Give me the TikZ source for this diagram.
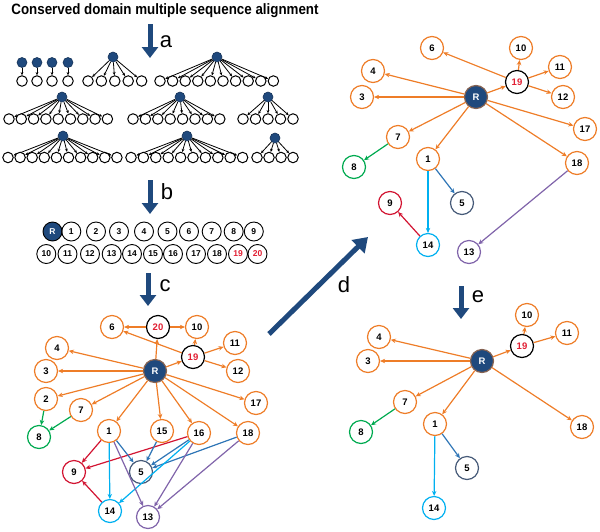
\documentclass[tikz,border=0pt]{standalone}
\usepackage{fontspec}
\setmainfont{Liberation Sans}
\usetikzlibrary{arrows.meta}
\definecolor{dblue}{RGB}{31,73,125}
\definecolor{orng}{RGB}{238,125,40}
\definecolor{grn}{RGB}{0,170,80}
\definecolor{rd}{RGB}{210,20,50}
\definecolor{eblue}{RGB}{46,117,182}
\definecolor{cyn}{RGB}{0,176,240}
\definecolor{prp}{RGB}{128,100,170}
\definecolor{slate}{RGB}{70,90,120}
\definecolor{redtxt}{RGB}{225,30,50}
\newcommand{\mytree}[7]{%
  \node[rootdot] (#1r) at (#2,#3) {};
  \foreach \i in {1,...,#6}{
    \node[leafc] (#1l\i) at ({#4+(\i-1)*#5},#7) {};
    \draw[treeedge] (#1r) -- (#1l\i);
  }%
}
\tikzset{
  rootdot/.style={circle, fill=dblue, draw=dblue!70!black, line width=0.6pt, minimum size=10pt, inner sep=0pt},
  leafc/.style={circle, draw=black, line width=1pt, minimum size=10.5pt, inner sep=0pt, fill=white},
  treeedge/.style={-{Stealth[length=3.2pt,width=2.8pt]}, line width=0.8pt},
  bnode/.style={circle, draw=black, line width=0.9pt, minimum size=19pt, inner sep=0pt, font=\bfseries\fontsize{8.5}{9}\selectfont},
  bR/.style={bnode, fill=dblue, text=white},
  bred/.style={bnode, text=redtxt},
  gn/.style={circle, draw=orng, line width=1.2pt, minimum size=23pt, inner sep=0pt, fill=white, font=\bfseries\fontsize{9.5}{10}\selectfont},
  gR/.style={gn, fill=dblue, text=white, draw=orng!50!dblue},
  gblk/.style={gn, draw=black, text=redtxt},
  ggrn/.style={gn, draw=grn},
  grd/.style={gn, draw=rd},
  gsl/.style={gn, draw=slate},
  gcy/.style={gn, draw=cyn},
  gpr/.style={gn, draw=prp},
  ge/.style={-{Stealth[length=5pt,width=4.5pt]}, line width=1.2pt},
  oe/.style={ge, draw=orng},
  gre/.style={ge, draw=grn},
  rde/.style={ge, draw=rd},
  ble/.style={ge, draw=eblue},
  cye/.style={ge, draw=cyn},
  pre/.style={ge, draw=prp},
  bigarrow/.style={-{Triangle[length=11pt,width=16pt]}, line width=5pt, draw=dblue},
  lbl/.style={font=\fontsize{22}{24}\selectfont, inner sep=0pt}
}
\begin{document}
\begin{tikzpicture}[x=1pt,y=-1pt]
\useasboundingbox (0,0) rectangle (600,531);
% title
\node[font=\bfseries\fontsize{15}{17}\selectfont, xscale=0.89, inner sep=0pt] (title) at (165,11) {Conserved domain multiple sequence alignment};
% arrow a
\coordinate (aS) at (150,24); \coordinate (aE) at (150,58);
\draw[bigarrow] (aS) -- (aE);
\node[lbl] (la) at (166,42) {a};
% trees
\mytree{sa}{22}{62.5}{22}{1}{1}{81}
\mytree{sb}{37}{62.5}{37}{1}{1}{81}
\mytree{sc}{52}{62.5}{52}{1}{1}{81}
\mytree{sd}{68}{62.5}{68}{1}{1}{81}
\mytree{tb}{113}{57}{88}{13.4}{5}{81}
\mytree{tc}{217}{57}{160}{12.6}{10}{81}
\mytree{td}{62}{97}{9}{12.3}{9}{119}
\mytree{te}{180}{97}{133}{12.4}{8}{119}
\mytree{tf}{268}{97}{243}{12.5}{5}{119}
\mytree{tg}{63}{136}{8}{12.1}{10}{157.5}
\mytree{th}{187}{136}{131}{12.4}{10}{157.5}
\mytree{ti}{275}{138}{257}{12}{4}{157.5}
% arrow b
\coordinate (bS) at (150,180); \coordinate (bE) at (150,214);
\draw[bigarrow] (bS) -- (bE);
\node[lbl] (lb) at (167,192) {b};
% row b
\node[bR] (bR) at (52.5,231.5) {R};
\node[bnode] (b1) at (71.3,231.5) {1};
\node[bnode] (b2) at (96,231.5) {2};
\node[bnode] (b3) at (119,231.5) {3};
\node[bnode] (b4) at (144,231.5) {4};
\node[bnode] (b5) at (167.5,231.5) {5};
\node[bnode] (b6) at (189,231.5) {6};
\node[bnode] (b7) at (211.7,231.5) {7};
\node[bnode] (b8) at (233.7,231.5) {8};
\node[bnode] (b9) at (253.8,231.5) {9};
\node[bnode] (b10) at (46.3,254) {10};
\node[bnode] (b11) at (67.5,254) {11};
\node[bnode] (b12) at (90,254) {12};
\node[bnode] (b13) at (111.7,254) {13};
\node[bnode] (b14) at (132,254) {14};
\node[bnode] (b15) at (153,254) {15};
\node[bnode] (b16) at (173,254) {16};
\node[bnode] (b17) at (196,254) {17};
\node[bnode] (b18) at (217,254) {18};
\node[bred] (b19) at (238,254) {19};
\node[bred] (b20) at (257.5,254) {20};
% arrow c
\coordinate (cS) at (148,273); \coordinate (cE) at (148,306);
\draw[bigarrow] (cS) -- (cE);
\node[lbl] (lc) at (165,286) {c};
% graph c
\node[gn] (c6) at (112,327) {6};
\node[gblk] (c20) at (158,327) {20};
\node[gn] (c10) at (197,327) {10};
\node[gn] (c4) at (57,348) {4};
\node[gblk] (c19) at (193,357) {19};
\node[gn] (c11) at (235,343) {11};
\node[gn] (c3) at (46,371) {3};
\node[gR] (cR) at (155,371) {R};
\node[gn] (c12) at (238,371) {12};
\node[gn] (c2) at (46,399) {2};
\node[gn] (c7) at (81,410) {7};
\node[gn] (c17) at (256,403) {17};
\node[ggrn] (c8) at (39,437) {8};
\node[gn] (c1) at (109,431) {1};
\node[gn] (c15) at (162,431) {15};
\node[gn] (c16) at (199,433) {16};
\node[gn] (c18) at (248,433) {18};
\node[grd] (c9) at (74,472) {9};
\node[gsl] (c5) at (141,472) {5};
\node[gcy] (c14) at (110,511) {14};
\node[gpr] (c13) at (148,517) {13};
\draw[oe] (c20) -- (c6);
\draw[oe] (c20) -- (c10);
\draw[oe] (cR) -- (c20);
\draw[oe] (c19) -- (c10);
\draw[oe] (c19) -- (c6);
\draw[oe] (c19) -- (c11);
\draw[oe] (c19) -- (c12);
\draw[oe] (cR) -- (c19);
\draw[oe] (cR) -- (c4);
\draw[oe] (cR) -- (c3);
\draw[oe] (cR) -- (c2);
\draw[oe] (cR) -- (c7);
\draw[oe] (cR) -- (c1);
\draw[oe] (cR) -- (c15);
\draw[oe] (cR) -- (c16);
\draw[oe] (cR) -- (c18);
\draw[oe] (cR) -- (c17);
\draw[gre] (c2) -- (c8);
\draw[gre] (c7) -- (c8);
\draw[rde] (c1) -- (c9);
\draw[rde] (c16) -- (c9);
\draw[rde] (c14) -- (c9);
\draw[ble] (c1) -- (c5);
\draw[ble] (c15) -- (c5);
\draw[ble] (c16) -- (c5);
\draw[ble] (c18) -- (c5);
\draw[cye] (c1) -- (c14);
\draw[cye] (c16) -- (c14);
\draw[pre] (c1) -- (c13);
\draw[pre] (c16) -- (c13);
\draw[pre] (c18) -- (c13);
% arrow d
\coordinate (dS) at (269,334); \coordinate (dE) at (368,237);
\draw[bigarrow, -{Triangle[length=14pt,width=18pt]}] (dS) -- (dE);
\node[lbl] (ld) at (344,285) {d};
% graph d
\node[gn] (d6) at (432,48) {6};
\node[gn] (d10) at (521,48) {10};
\node[gn] (d4) at (373,71) {4};
\node[gn] (d11) at (560,67) {11};
\node[gblk] (d19) at (517,82) {19};
\node[gn] (d3) at (362,97) {3};
\node[gR] (dR) at (476,97) {R};
\node[gn] (d12) at (563,97) {12};
\node[gn] (d17) at (585,129) {17};
\node[gn] (d7) at (398,137) {7};
\node[gn] (d1) at (428,159) {1};
\node[gn] (d18) at (577,163) {18};
\node[ggrn] (d8) at (354,167) {8};
\node[grd] (d9) at (390,203) {9};
\node[gsl] (d5) at (462,203) {5};
\node[gcy] (d14) at (428,245) {14};
\node[gpr] (d13) at (469,252) {13};
\draw[oe] (d19) -- (d6);
\draw[oe] (dR) -- (d4);
\draw[oe] (dR) -- (d3);
\draw[oe] (dR) -- (d19);
\draw[oe] (d19) -- (d10);
\draw[oe] (d19) -- (d11);
\draw[oe] (d19) -- (d12);
\draw[oe] (dR) -- (d17);
\draw[oe] (dR) -- (d18);
\draw[oe] (dR) -- (d7);
\draw[oe] (dR) -- (d1);
\draw[gre] (d7) -- (d8);
\draw[ble] (d1) -- (d5);
\draw[cye] (d1) -- (d14);
\draw[rde] (d14) -- (d9);
\draw[pre] (d18) -- (d13);
% arrow e
\coordinate (eS) at (461,286); \coordinate (eE) at (461,319);
\draw[bigarrow] (eS) -- (eE);
\node[lbl] (le) at (478,297) {e};
% graph e
\node[gn] (e10) at (527,315) {10};
\node[gn] (e4) at (379,337) {4};
\node[gn] (e11) at (567,333) {11};
\node[gblk] (e19) at (522,346) {19};
\node[gn] (e3) at (368,361) {3};
\node[gR] (eR) at (482,361) {R};
\node[gn] (e7) at (405,402) {7};
\node[gn] (e1) at (435,424) {1};
\node[gn] (e18) at (582,427) {18};
\node[ggrn] (e8) at (361,432) {8};
\node[gsl] (e5) at (467,468) {5};
\node[gcy] (e14) at (434,508) {14};
\draw[oe] (eR) -- (e4);
\draw[oe] (eR) -- (e3);
\draw[oe] (eR) -- (e19);
\draw[oe] (e19) -- (e10);
\draw[oe] (e19) -- (e11);
\draw[oe] (eR) -- (e7);
\draw[oe] (eR) -- (e1);
\draw[oe] (eR) -- (e18);
\draw[gre] (e7) -- (e8);
\draw[ble] (e1) -- (e5);
\draw[cye] (e1) -- (e14);
\end{tikzpicture}
\end{document}
